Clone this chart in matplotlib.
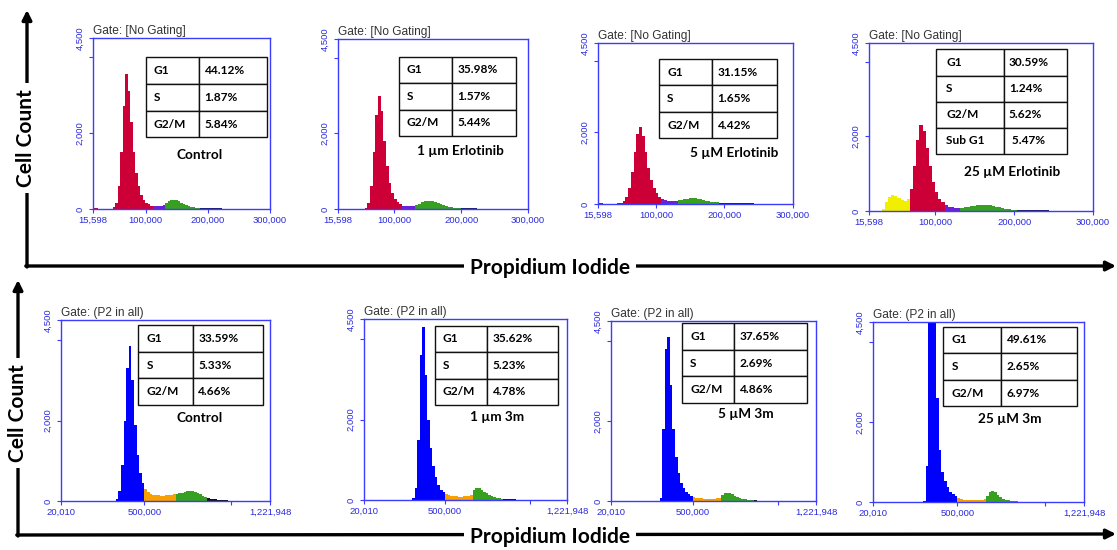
import numpy as np
import matplotlib.pyplot as plt
from matplotlib.ticker import FixedLocator, FixedFormatter

plt.rcParams['font.family'] = ['Liberation Sans', 'DejaVu Sans']

W, H = 1117, 550

# ---------------- data (cell counts per channel bin) ----------------
# top row (Erlotinib): bins start at 15,598, 4,000 wide
erl_ctrl = [20, 15, 10, 5, 0, 0, 5, 10, 40, 150, 600, 1500, 2700, 3550, 3100,
            2300, 1500, 950, 600, 380, 250, 170, 120, 90, 75, 70, 75, 85, 110,
            150, 200, 235, 250, 240, 210, 170, 130, 95, 70, 55, 45, 35, 30, 25,
            22, 20, 18, 18, 16, 15, 15, 14, 12, 12, 10, 8, 6, 4, 2]
erl_1 = [0, 0, 0, 0, 0, 0, 0, 0, 0, 0, 30, 150, 600, 1500, 2500, 3000, 2600,
         1800, 1150, 700, 430, 270, 180, 120, 90, 75, 70, 75, 90, 115, 145, 175,
         200, 215, 220, 215, 195, 165, 130, 100, 75, 55, 42, 32, 26, 22, 20, 18,
         16, 15, 15, 14, 13, 12, 11, 10, 9, 8, 6, 4, 2]
erl_5 = [30, 20, 10, 0, 0, 0, 5, 20, 40, 80, 200, 450, 900, 1450, 1950, 2150,
         1900, 1450, 1000, 680, 450, 300, 200, 140, 110, 95, 90, 90, 95, 105,
         120, 135, 148, 158, 162, 160, 150, 135, 115, 95, 78, 62, 50, 42, 36, 32,
         30, 28, 26, 24, 22, 20, 19, 18, 17, 16, 14, 12, 10, 8, 5, 3]
erl_25 = [5, 5, 5, 5, 60, 250, 380, 420, 400, 340, 290, 280, 330, 600, 1200,
          1900, 2300, 2150, 1700, 1200, 780, 500, 330, 230, 160, 120, 100, 90,
          85, 90, 100, 115, 128, 140, 150, 160, 165, 162, 155, 140, 120, 100, 80,
          62, 50, 40, 34, 30, 26, 24, 22, 20, 18, 17, 16, 15, 14, 13, 12, 10, 8,
          6, 4, 2]

# bottom row (compound 3m): bins start at 20,010, 15,000 wide
m3_ctrl = [0, 0, 0, 0, 0, 0, 0, 0, 0, 0, 0, 0, 0, 0, 0, 0, 0, 0, 0, 0,
           10, 60, 250, 900, 2000, 3300, 3850, 3000, 1900, 1150, 700, 450,
           300, 220, 180, 160, 150, 140, 135, 135, 140, 145, 155, 165,
           180, 195, 210, 225, 240, 250, 245, 230, 200, 165, 130, 100,
           75, 60, 50, 42, 36, 30, 24, 18, 12, 8,
           4, 3, 2, 2, 0, 0, 0, 10, 0, 0, 8, 0, 6]
m3_1 = [0, 0, 0, 0, 0, 0, 0, 0, 0, 0, 0, 0, 0, 0, 0, 0, 0, 0,
        10, 60, 300, 1500, 3600, 4300, 3100, 2000, 1300, 850, 560, 380, 260, 190,
        140, 115, 100, 92, 88, 86, 86, 90, 95, 105, 125,
        250, 300, 290, 255, 210, 165, 125, 95, 70, 52, 40, 30,
        25, 20, 18, 15, 13, 12, 10, 10, 9, 8, 8, 7, 7, 6, 6, 5, 5, 4, 3, 2]
m3_5 = [0, 0, 0, 0, 0, 0, 0, 0, 0, 0, 0, 0, 0, 0, 0, 0, 0, 0, 0,
        80, 1800, 3800, 4100, 2900, 1800, 1100, 700, 460, 320, 230, 170, 130,
        100, 85, 75, 68, 62, 60, 58, 58, 60, 65, 80,
        150, 190, 210, 200, 170, 130, 95, 70, 52, 40, 32, 26,
        20, 15, 8, 3, 2, 0, 0, 0, 0, 0, 0, 0, 0, 0, 8]
m3_25 = [0, 0, 0, 0, 0, 0, 0, 0, 0, 0, 0, 0, 0, 0, 0, 0, 0, 0, 0,
         20, 900, 4700, 5200, 4700, 2600, 1300, 750, 520, 370, 260, 190, 140,
         90, 65, 55, 50, 48, 46, 46, 48, 50, 55, 70,
         150, 240, 270, 240, 180, 120, 80, 55, 40, 30, 24, 18,
         12, 8, 5, 3, 2, 0, 0, 0, 0, 0, 0, 0, 0, 8, 8, 8]

# gate boundaries (PI channel) for each population
gates_erl_ctrl = [15598, 110000, 131000, 188000, 300000]
gates_erl_1 = [15598, 111000, 133000, 200000, 300000]
gates_erl_5 = [15598, 107600, 132000, 193000, 300000]
gates_erl_25 = [15598, 67000, 110000, 133000, 203000, 300000]
gates_m3_ctrl = [20010, 500000, 676000, 867000, 1221948]
gates_m3_1 = [20010, 500000, 665000, 845000, 1221948]
gates_m3_5 = [20010, 496000, 672000, 855000, 1221948]
gates_m3_25 = [20010, 497000, 665000, 857000, 1221948]

phases = ['G1', 'S', 'G2/M']
pct_erl_ctrl = ['44.12%', '1.87%', '5.84%']
pct_erl_1 = ['35.98%', '1.57%', '5.44%']
pct_erl_5 = ['31.15%', '1.65%', '4.42%']
pct_erl_25 = ['30.59%', '1.24%', '5.62%', ' 5.47%']
pct_m3_ctrl = ['33.59%', '5.33%', '4.66%']
pct_m3_1 = ['35.62%', '5.23%', '4.78%']
pct_m3_5 = ['37.65%', '2.69%', '4.86%']
pct_m3_25 = ['49.61%', '2.65%', '6.97%']

top_xticks = [15598, 100000, 200000, 300000]
top_xlabels = ['15,598', '100,000', '200,000', '300,000']
bot_xticks = [20010, 500000, 1000000, 1221948]
bot_xlabels = ['20,010', '500,000', '', '1,221,948']
yticks = [0, 2000, 4000, 4500]
ylabels = ['0', '2,000', '', '4,500']

# ---------------- styles ----------------
RED, PURPLE, GREEN, NAVY = '#cc0036', '#6a22d6', '#38a020', '#1c1c66'
YELLOW, BLUE, ORANGE, BLACK = '#f2ee00', '#0000ff', '#f7a000', '#111111'
AXBLUE = '#3c3cff'
TICKBLUE = '#2a2ae0'
BOLD = dict(family=['Lato', 'DejaVu Sans'], weight='bold')

top_cols = [RED, PURPLE, GREEN, NAVY]
top_cols_sub = [YELLOW, RED, PURPLE, GREEN, NAVY]
bot_cols = [BLUE, ORANGE, GREEN, BLACK]

# panel box in pixels (left, top, right, bottom), table bbox in axes
# fraction, first column share, caption centre in axes fraction
panels = [
    dict(px=(93, 38, 270, 209), counts=erl_ctrl, gates=gates_erl_ctrl,
         cols=top_cols, pct=pct_erl_ctrl, caption='Control',
         tbox=[0.298, 0.419, 0.685, 0.468], cw=0.44, cap=(0.605, 0.316)),
    dict(px=(338, 39, 528, 209), counts=erl_1, gates=gates_erl_1,
         cols=top_cols, pct=pct_erl_1, caption='1 µm Erlotinib',
         tbox=[0.321, 0.429, 0.616, 0.467], cw=0.456, cap=(0.644, 0.343)),
    dict(px=(598, 43, 793, 204), counts=erl_5, gates=gates_erl_5,
         cols=top_cols, pct=pct_erl_5, caption='5 µM Erlotinib',
         tbox=[0.313, 0.408, 0.603, 0.494], cw=0.453, cap=(0.699, 0.315)),
    dict(px=(869, 43, 1093, 211), counts=erl_25, gates=gates_erl_25,
         cols=top_cols_sub, pct=pct_erl_25, caption='25 µM Erlotinib',
         tbox=[0.299, 0.339, 0.583, 0.623], cw=0.52, cap=(0.641, 0.230)),
    dict(px=(61, 320, 270, 501), counts=m3_ctrl, gates=gates_m3_ctrl,
         cols=bot_cols, pct=pct_m3_ctrl, caption='Control',
         tbox=[0.370, 0.530, 0.595, 0.442], cw=0.437, cap=(0.665, 0.460)),
    dict(px=(364, 319, 567, 500), counts=m3_1, gates=gates_m3_1,
         cols=bot_cols, pct=pct_m3_1, caption='1 µm 3m',
         tbox=[0.350, 0.525, 0.607, 0.438], cw=0.424, cap=(0.654, 0.460)),
    dict(px=(611, 321, 816, 501), counts=m3_5, gates=gates_m3_5,
         cols=bot_cols, pct=pct_m3_5, caption='5 µM 3m',
         tbox=[0.348, 0.546, 0.607, 0.441], cw=0.416, cap=(0.659, 0.483)),
    dict(px=(873, 322, 1084, 502), counts=m3_25, gates=gates_m3_25,
         cols=bot_cols, pct=pct_m3_25, caption='25 µM 3m',
         tbox=[0.333, 0.531, 0.632, 0.444], cw=0.43, cap=(0.649, 0.461)),
]


def draw_panel(fig, p, top_row):
    l, t, r, b = p['px']
    ax = fig.add_axes([l / W, 1 - b / H, (r - l) / W, (b - t) / H])

    if top_row:
        start, width, xlim = 15598, 4000, (15598, 300000)
        xt, xl, title = top_xticks, top_xlabels, 'Gate: [No Gating]'
    else:
        start, width, xlim = 20010, 15000, (20010, 1221948)
        xt, xl, title = bot_xticks, bot_xlabels, 'Gate: (P2 in all)'

    counts = np.asarray(p['counts'], dtype=float)
    edges = start + width * np.arange(len(counts) + 1)
    centers = edges[:-1] + width / 2
    for g0, g1, col in zip(p['gates'][:-1], p['gates'][1:], p['cols']):
        idx = np.where((centers >= g0) & (centers < g1))[0]
        if len(idx) == 0:
            continue
        ax.stairs(counts[idx], edges[idx[0]:idx[-1] + 2], fill=True,
                  color=col, lw=0)

    ax.set_xlim(*xlim)
    ax.set_ylim(0, 4500)
    ax.xaxis.set_major_locator(FixedLocator(xt))
    ax.xaxis.set_major_formatter(FixedFormatter(xl))
    ax.yaxis.set_major_locator(FixedLocator(yticks))
    ax.yaxis.set_major_formatter(FixedFormatter(ylabels))
    ax.tick_params(colors=AXBLUE, labelcolor=TICKBLUE, labelsize=6.8,
                   length=3, width=0.8, pad=2)
    ax.tick_params(axis='y', labelrotation=90, pad=3)
    for lab in ax.get_yticklabels():
        lab.set_va('center')
    for sp in ax.spines.values():
        sp.set_color(AXBLUE)
        sp.set_linewidth(1.0)

    ax.text(0, 1.008, title, transform=ax.transAxes, fontsize=8.6,
            color='#333333', ha='left', va='bottom')

    rows = [[ph, v] for ph, v in zip(phases + ['Sub G1'], p['pct'])]
    tab = ax.table(cellText=rows, cellLoc='left',
                   colWidths=[p['cw'], 1 - p['cw']], bbox=p['tbox'])
    tab.auto_set_font_size(False)
    tab.set_fontsize(8.6)
    for (row, col), cell in tab.get_celld().items():
        cell.set_linewidth(1.0)
        cell.set_edgecolor('#111111')
        cell.PAD = 0.15 if col == 0 else 0.08
        cell.get_text().set_fontfamily(BOLD['family'])
        cell.get_text().set_fontweight('bold')

    ax.text(p['cap'][0], p['cap'][1], p['caption'], transform=ax.transAxes,
            ha='center', va='center', fontsize=9.8, **BOLD)


fig = plt.figure(figsize=(W / 100, H / 100), dpi=100)

# overlay for the hand-drawn axis arrows
ov = fig.add_axes([0, 0, 1, 1])
ov.set_xlim(0, W)
ov.set_ylim(H, 0)
ov.set_axis_off()
arrow = dict(arrowstyle='-|>', lw=2.4, color='black', mutation_scale=14,
             shrinkA=0, shrinkB=0)
label_box = dict(boxstyle='square,pad=0.3', fc='white', ec='none')

ov.annotate('', xy=(27, 10), xytext=(27, 267), arrowprops=arrow)
ov.annotate('', xy=(1116, 266), xytext=(25.8, 266), arrowprops=arrow)
ov.text(26, 138, 'Cell Count', rotation=90, ha='center', va='center',
        fontsize=15, bbox=label_box, **BOLD)
ov.text(550, 268, 'Propidium Iodide', ha='center', va='center',
        fontsize=15, bbox=label_box, **BOLD)

ov.annotate('', xy=(18, 280), xytext=(18, 536), arrowprops=arrow)
ov.annotate('', xy=(1116, 534), xytext=(16.8, 535), arrowprops=arrow)
ov.text(18, 413, 'Cell Count', rotation=90, ha='center', va='center',
        fontsize=15, bbox=label_box, **BOLD)
ov.text(550, 537, 'Propidium Iodide', ha='center', va='center',
        fontsize=15, bbox=label_box, **BOLD)

for i, p in enumerate(panels):
    draw_panel(fig, p, i < 4)

fig.savefig('out.png', dpi=100)
